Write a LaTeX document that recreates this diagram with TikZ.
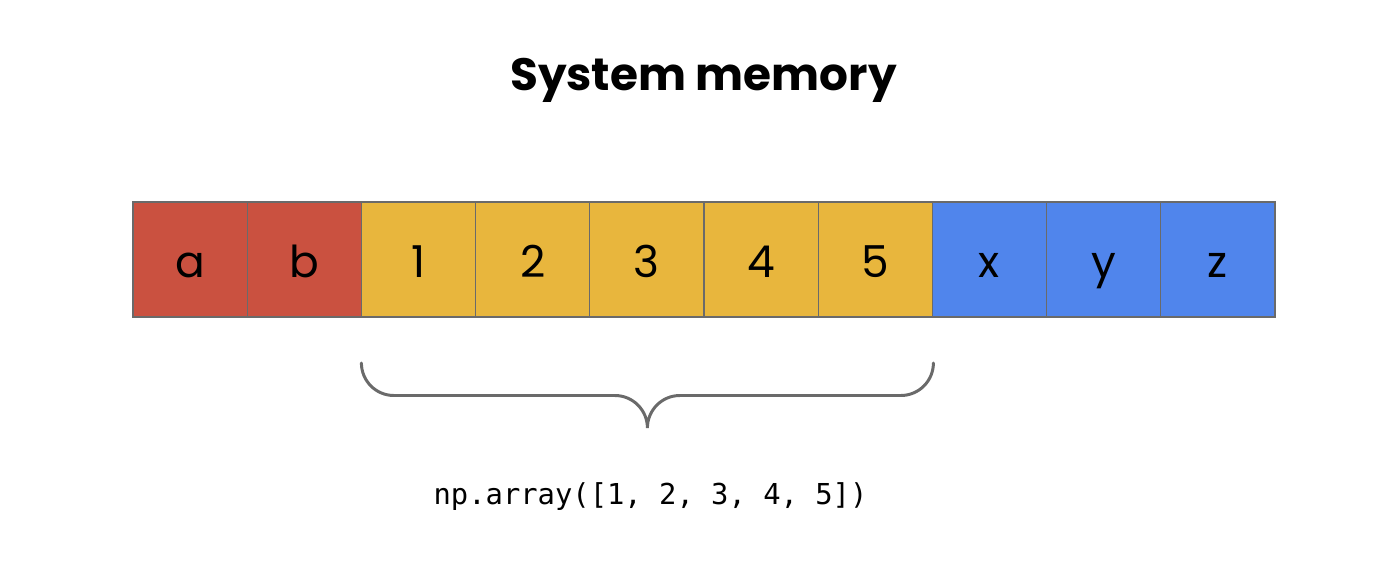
\documentclass[tikz,border=0pt]{standalone}
\usepackage{fontspec}
\setmainfont{Poppins}
\newfontfamily\titlefont{Poppins}
\newfontfamily\codefont{DejaVu Sans Mono}
\usetikzlibrary{positioning}
\definecolor{memred}{HTML}{CA5140}
\definecolor{memyellow}{HTML}{E8B63D}
\definecolor{memblue}{HTML}{5085EC}
\definecolor{memline}{HTML}{6A6A6A}
\tikzset{
  cell/.style={draw=memline, line width=0.6pt, minimum width=2.284cm, minimum height=2.3cm,
    inner sep=0pt, outer sep=0pt, text height=21pt, text depth=0pt,
    font=\fontsize{25}{30}\selectfont},
  bracepath/.style={draw=memline, line width=1.7pt, line cap=round}
}
\begin{document}
\begin{tikzpicture}
    \useasboundingbox (0,0) rectangle (27.46,11.22);
    % title
    \node (title) at (14.07,9.62) {\titlefont\bfseries\fontsize{25.8}{31}\selectfont System memory};
    % memory cells
    \node [cell, fill=memred] (ca) at (3.802,6.03) {a};
    \node [cell, fill=memred, right=0pt of ca] (cb) {b};
    \node [cell, fill=memyellow, right=0pt of cb] (c1) {1};
    \node [cell, fill=memyellow, right=0pt of c1] (c2) {2};
    \node [cell, fill=memyellow, right=0pt of c2] (c3) {3};
    \node [cell, fill=memyellow, right=0pt of c3] (c4) {4};
    \node [cell, fill=memyellow, right=0pt of c4] (c5) {5};
    \node [cell, fill=memblue, right=0pt of c5] (cx) {x};
    \node [cell, fill=memblue, right=0pt of cx] (cy) {y};
    \node [cell, fill=memblue, right=0pt of cy] (cz) {z};
    % brace
    \coordinate (bl) at ([yshift=-0.92cm]c1.south west);
    \draw [bracepath] (bl) arc (180:270:0.65) -- ++(4.42,0) arc (90:0:0.65) coordinate (tip)
        arc (180:90:0.65) -- ++(4.42,0) arc (270:360:0.65);
    % label
    \node (code) at (13.01,1.28) {\codefont\fontsize{16.4}{20}\selectfont np.array([1, 2, 3, 4, 5])};
\end{tikzpicture}
\end{document}
